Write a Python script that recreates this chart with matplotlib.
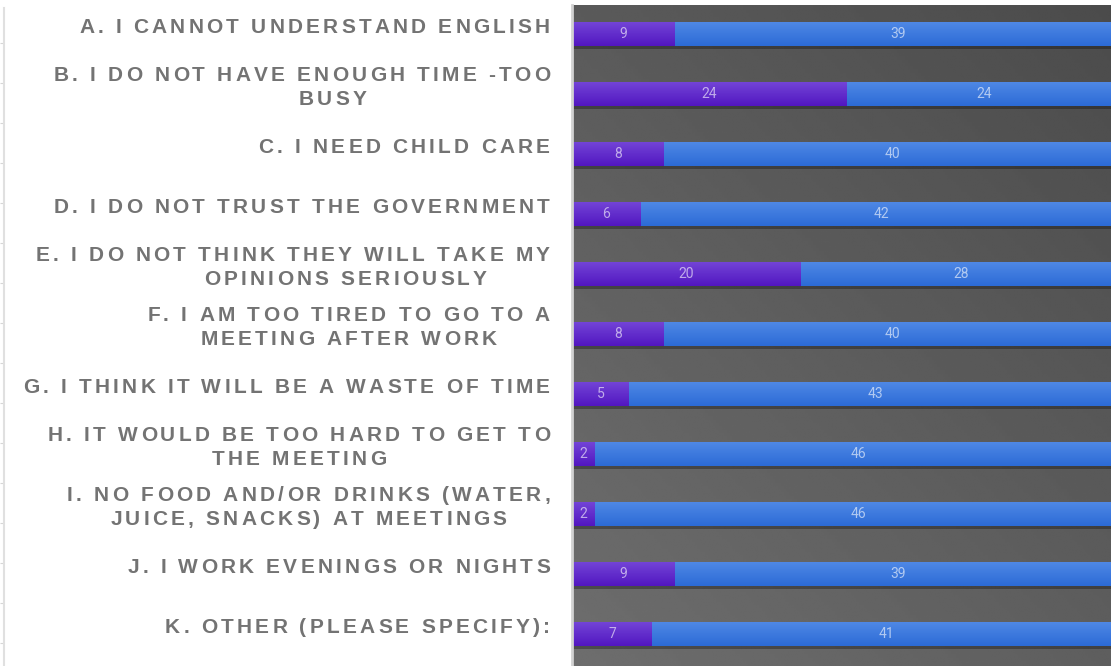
import matplotlib
matplotlib.use("Agg")
import matplotlib.pyplot as plt
import numpy as np
import matplotlib.patheffects as pe
from matplotlib.text import Text
from matplotlib.font_manager import findfont, get_font
from matplotlib.transforms import IdentityTransform, offset_copy
from matplotlib.colors import LinearSegmentedColormap

# ---- data -------------------------------------------------------------
categories = [
    "A. I CANNOT UNDERSTAND ENGLISH",
    "B. I DO NOT HAVE ENOUGH TIME -TOO\nBUSY",
    "C. I NEED CHILD CARE",
    "D. I DO NOT TRUST THE GOVERNMENT",
    "E. I DO NOT THINK THEY WILL TAKE MY\nOPINIONS SERIOUSLY",
    "F. I AM TOO TIRED TO GO TO A\nMEETING AFTER WORK",
    "G. I THINK IT WILL BE A WASTE OF TIME",
    "H. IT WOULD BE TOO HARD TO GET TO\nTHE MEETING",
    "I. NO FOOD AND/OR DRINKS (WATER,\nJUICE, SNACKS) AT MEETINGS",
    "J. I WORK EVENINGS OR NIGHTS",
    "K. OTHER (PLEASE SPECIFY):",
]
selected = [9, 24, 8, 6, 20, 8, 5, 2, 2, 9, 7]
not_selected = [39, 24, 40, 42, 28, 40, 43, 46, 46, 39, 41]

# ---- styling ----------------------------------------------------------
PURPLE_TOP, PURPLE_BOT = "#7446d8", "#5216c0"
BLUE_TOP, BLUE_BOT = "#5089e6", "#2c6bd6"
LABEL_COLOR = "#737373"
BAR_HEIGHT = 0.4
# extra horizontal nudge (points) for the second line of some wrapped labels
second_line_shift = {1: 22, 4: 38}


class TrackedText(Text):
    """Text drawn with extra letter spacing (tracking, in points)."""

    def __init__(self, x, y, text, tracking=0.0, line_shift=0.0, **kwargs):
        super().__init__(x, y, text, **kwargs)
        self.tracking = tracking
        self.line_shift = line_shift

    def draw(self, renderer):
        if not self.get_visible() or not self.get_text():
            return
        prop = self.get_fontproperties()
        font = get_font(findfont(prop))
        font.set_size(prop.get_size_in_points(), renderer.dpi)
        size_px = renderer.points_to_pixels(prop.get_size_in_points())
        trk = renderer.points_to_pixels(self.tracking)
        shift = renderer.points_to_pixels(self.line_shift)
        lines = self.get_text().split("\n")
        advs = []
        for line in lines:
            a = []
            for ch in line:
                g = font.load_char(ord(ch))
                a.append(g.linearHoriAdvance / 65536.0)
            advs.append(a)
        widths = [sum(a) + trk * (len(a) - 1) for a in advs]
        block_w = max(widths)
        x0, y0 = self.get_transform().transform(self.get_unitless_position())
        ha = self.get_horizontalalignment()
        if ha == "right":
            left = x0 - block_w
        elif ha == "center":
            left = x0 - block_w / 2
        else:
            left = x0
        line_h = size_px * self._linespacing
        cap = 0.716 * size_px
        n = len(lines)
        for k, (line, a, w) in enumerate(zip(lines, advs, widths)):
            x = left + (block_w - w) / 2 + (shift if k > 0 else 0)
            cy = y0 + ((n - 1) / 2 - k) * line_h
            base = cy - cap / 2
            for ch, adv in zip(line, a):
                if ch != " ":
                    t = Text(x, base, ch, transform=IdentityTransform(),
                             ha="left", va="baseline",
                             fontproperties=prop, color=self.get_color())
                    t.set_figure(self.figure)
                    t.draw(renderer)
                x += adv + trk


W, H = 1111, 666
fig = plt.figure(figsize=(W / 100, H / 100), dpi=100)
fig.patch.set_facecolor("white")

ax = fig.add_axes([572 / W, 0, (W - 572) / W, 661 / H])
n = len(categories)
ypos = np.arange(n)

# plot background: soft diagonal grey gradient (darker towards top right)
gx, gy = np.meshgrid(np.linspace(0, 1, 200), np.linspace(0, 1, 200))
gval = 0.355 + 0.075 * gy - 0.06 * gx      # gy = 0 at the top row
ax.imshow(gval, extent=(0, 1, 0, 1), transform=ax.transAxes, cmap="gray",
          vmin=0, vmax=1, aspect="auto", zorder=0, interpolation="bilinear",
          origin="upper")

shadow = [pe.SimplePatchShadow(offset=(0, -2.5), shadow_rgbFace="black",
                               alpha=0.3), pe.Normal()]
bars_a = ax.barh(ypos, selected, height=BAR_HEIGHT, color=PURPLE_BOT,
                 zorder=2, path_effects=shadow)
bars_b = ax.barh(ypos, not_selected, left=selected, height=BAR_HEIGHT,
                 color=BLUE_BOT, zorder=2, path_effects=shadow)

grad = np.linspace(0, 1, 64).reshape(-1, 1)
for bars, top, bot in ((bars_a, PURPLE_TOP, PURPLE_BOT),
                       (bars_b, BLUE_TOP, BLUE_BOT)):
    cmap = LinearSegmentedColormap.from_list("g", [top, bot])
    for p in bars:
        x0, y0 = p.get_x(), p.get_y()
        im = ax.imshow(grad, extent=(x0, x0 + p.get_width(),
                                     y0 + p.get_height(), y0),
                       cmap=cmap, aspect="auto", zorder=2.5,
                       interpolation="bilinear", origin="upper")
        im.set_clip_path(p)

# value labels centred in each segment
for i in range(n):
    ax.text(selected[i] / 2, i, str(selected[i]), ha="center", va="center",
            fontsize=10, family="Roboto", color="white", alpha=0.6,
            zorder=4)
    ax.text(selected[i] + not_selected[i] / 2, i, str(not_selected[i]),
            ha="center", va="center", fontsize=10, family="Roboto",
            color="white", alpha=0.6, zorder=4)

ax.set_xlim(0, 47.1)
ax.set_ylim(n - 1 + 0.533, -0.483)
ax.set_xticks([])
ax.set_yticks([])
for side in ("top", "right", "bottom"):
    ax.spines[side].set_visible(False)
ax.spines["left"].set_color("#d2d2d2")
ax.spines["left"].set_linewidth(2)

# category labels with letter spacing
label_tf = offset_copy(ax.get_yaxis_transform(), fig=fig, x=-22, y=8,
                       units="dots")
for i, lab in enumerate(categories):
    t = TrackedText(0, i, lab, tracking=2.3,
                    line_shift=second_line_shift.get(i, 0.0),
                    transform=label_tf, ha="right", va="center",
                    fontsize=15, fontweight="bold",
                    family=["Liberation Sans", "DejaVu Sans"],
                    color=LABEL_COLOR, linespacing=1.15)
    fig.add_artist(t)

# faint rule along the left edge of the figure
rule = fig.add_axes([4 / W, 0, 0.0005, 658 / H])
rule.set_facecolor("none")
for side in ("top", "right", "bottom"):
    rule.spines[side].set_visible(False)
rule.spines["left"].set_color("#e0e0e0")
rule.spines["left"].set_linewidth(1.5)
rule.set_xticks([])
rule.set_ylim(658, 0)
rule.set_yticks(np.arange(35, 658, 40))
rule.tick_params(axis="y", length=3, color="#d6d6d6", labelleft=False)

fig.savefig("out.png", dpi=100)
